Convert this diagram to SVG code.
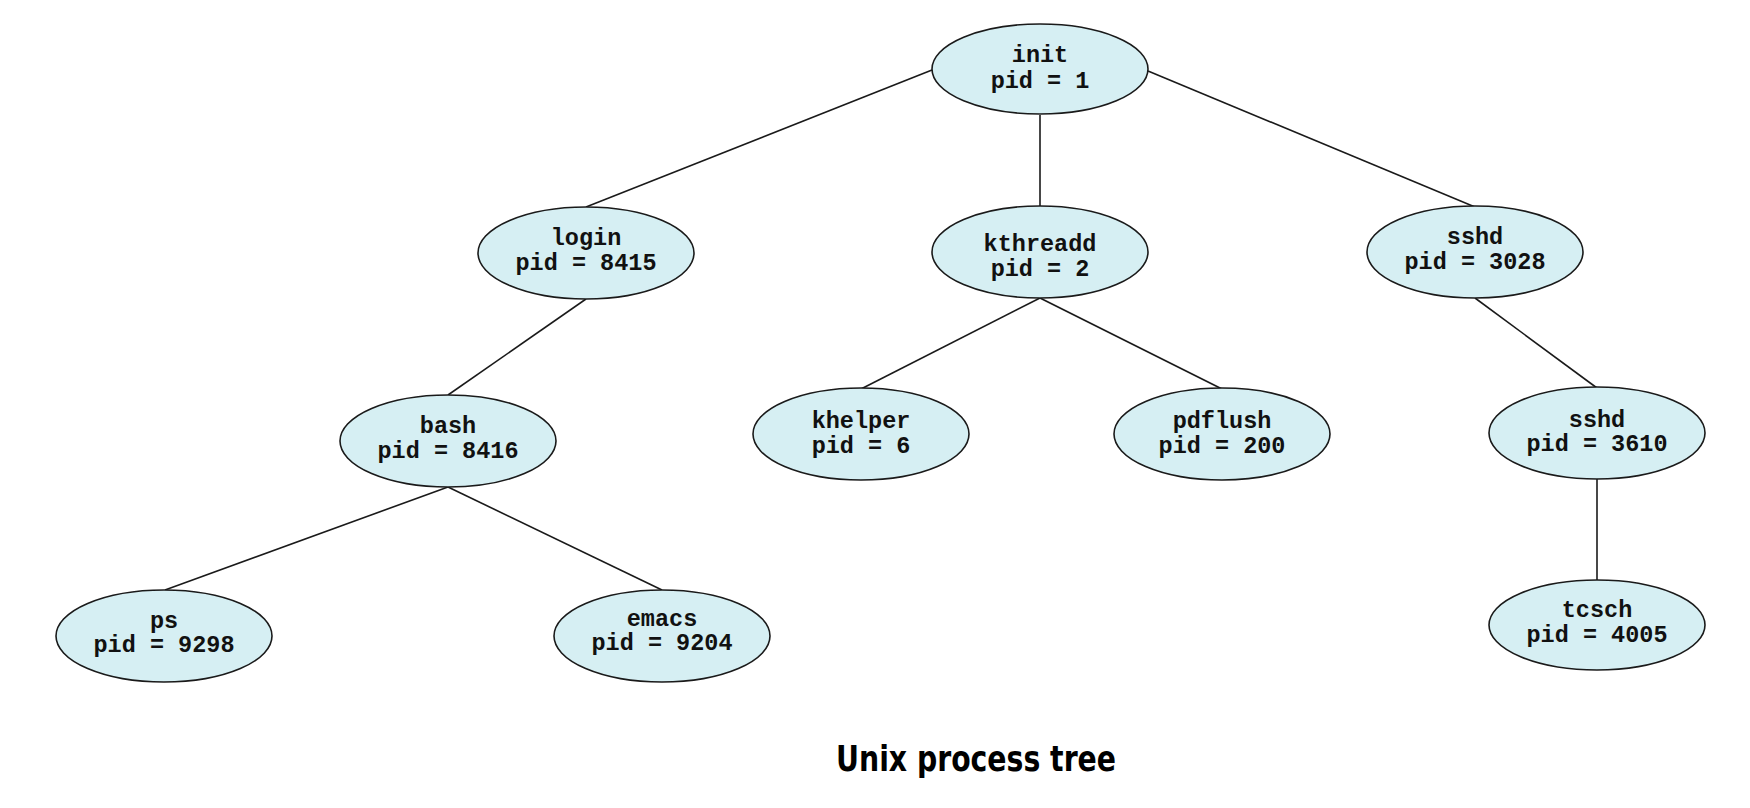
<svg xmlns="http://www.w3.org/2000/svg" width="1750" height="808" viewBox="0 0 1750 808">
<style>
.n ellipse{fill:#d6eff3;stroke:#1a1a1a;stroke-width:1.6}
.n text{font-family:"Liberation Mono","Courier New",monospace;font-weight:bold;font-size:23.5px;fill:#111;text-anchor:middle}
.c line{stroke:#1a1a1a;stroke-width:1.6}
.t{font-family:"DejaVu Sans Condensed","DejaVu Sans",Tahoma,sans-serif;font-weight:bold;font-size:36px;fill:#000}
</style>
<rect width="1750" height="808" fill="#fff"/>
<g id="connectors" class="c">
<line x1="932" y1="70" x2="586" y2="207"/>
<line x1="1040" y1="115" x2="1040" y2="206"/>
<line x1="1148" y1="71" x2="1475" y2="207"/>
<line x1="586" y1="299" x2="448" y2="395"/>
<line x1="1040" y1="298" x2="861" y2="389"/>
<line x1="1040" y1="298" x2="1222" y2="389"/>
<line x1="1475" y1="298" x2="1597" y2="388"/>
<line x1="448" y1="487" x2="165" y2="590"/>
<line x1="448" y1="487" x2="662" y2="590"/>
<line x1="1597" y1="479" x2="1597" y2="580"/>
</g>
<g id="init" class="n"><ellipse cx="1040" cy="69" rx="108" ry="45"/><text x="1040" y="62">init</text><text x="1040" y="88">pid = 1</text></g>
<g id="login" class="n"><ellipse cx="586" cy="253" rx="108" ry="46"/><text x="586" y="245">login</text><text x="586" y="270">pid = 8415</text></g>
<g id="kthreadd" class="n"><ellipse cx="1040" cy="252" rx="108" ry="46"/><text x="1040" y="251">kthreadd</text><text x="1040" y="276">pid = 2</text></g>
<g id="sshd3028" class="n"><ellipse cx="1475" cy="252" rx="108" ry="46"/><text x="1475" y="244">sshd</text><text x="1475" y="269">pid = 3028</text></g>
<g id="bash" class="n"><ellipse cx="448" cy="441" rx="108" ry="46"/><text x="448" y="433">bash</text><text x="448" y="458">pid = 8416</text></g>
<g id="khelper" class="n"><ellipse cx="861" cy="434" rx="108" ry="46"/><text x="861" y="428">khelper</text><text x="861" y="453">pid = 6</text></g>
<g id="pdflush" class="n"><ellipse cx="1222" cy="434" rx="108" ry="46"/><text x="1222" y="428">pdflush</text><text x="1222" y="453">pid = 200</text></g>
<g id="sshd3610" class="n"><ellipse cx="1597" cy="433" rx="108" ry="46"/><text x="1597" y="427">sshd</text><text x="1597" y="451">pid = 3610</text></g>
<g id="ps" class="n"><ellipse cx="164" cy="636" rx="108" ry="46"/><text x="164" y="628">ps</text><text x="164" y="652">pid = 9298</text></g>
<g id="emacs" class="n"><ellipse cx="662" cy="636" rx="108" ry="46"/><text x="662" y="626">emacs</text><text x="662" y="650">pid = 9204</text></g>
<g id="tcsch" class="n"><ellipse cx="1597" cy="625" rx="108" ry="45"/><text x="1597" y="617">tcsch</text><text x="1597" y="642">pid = 4005</text></g>
<text class="t" x="836" y="771" textLength="280" lengthAdjust="spacingAndGlyphs">Unix process tree</text>
</svg>
